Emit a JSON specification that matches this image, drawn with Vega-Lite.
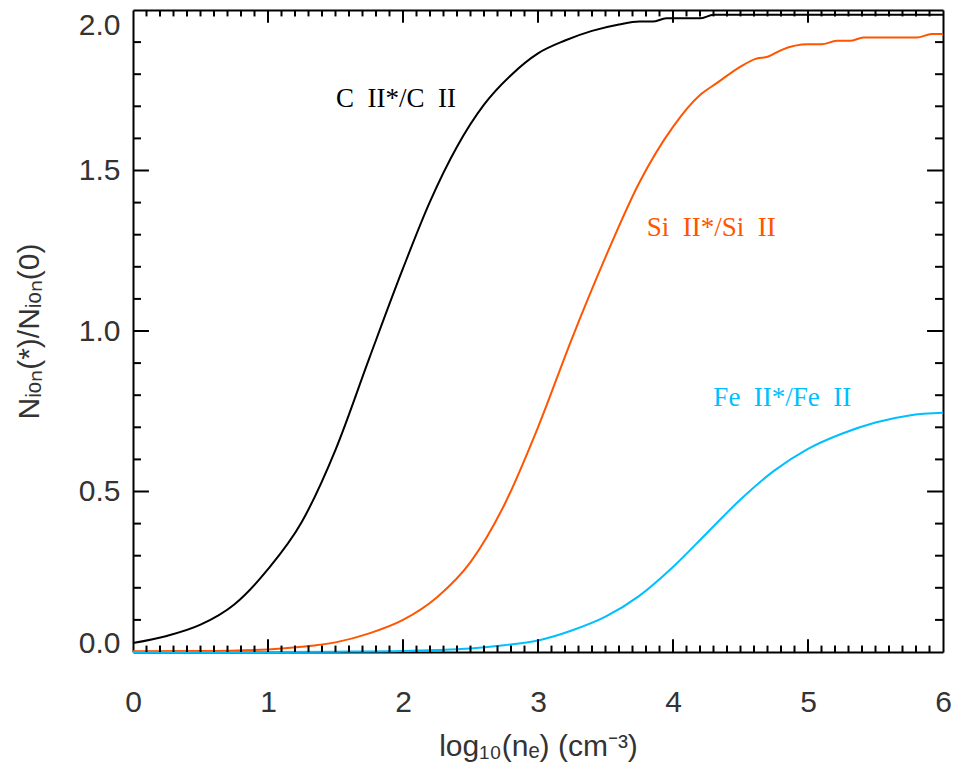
{
  "$schema": "https://vega.github.io/schema/vega-lite/v6.json",
  "width": 810,
  "height": 642,
  "autosize": "none",
  "padding": {"left": 133, "top": 10, "right": 16, "bottom": 124},
  "background": "white",
  "datasets": {
    "curves": [
      {"series": "C", "x": 0, "y": 0.028},
      {"series": "C", "x": 0.25, "y": 0.05},
      {"series": "C", "x": 0.5, "y": 0.085},
      {"series": "C", "x": 0.75, "y": 0.148},
      {"series": "C", "x": 1.0, "y": 0.258},
      {"series": "C", "x": 1.25, "y": 0.405},
      {"series": "C", "x": 1.5, "y": 0.63},
      {"series": "C", "x": 1.75, "y": 0.915},
      {"series": "C", "x": 2.0, "y": 1.195},
      {"series": "C", "x": 2.2, "y": 1.403},
      {"series": "C", "x": 2.4, "y": 1.574},
      {"series": "C", "x": 2.6, "y": 1.705},
      {"series": "C", "x": 2.8, "y": 1.797},
      {"series": "C", "x": 3.0, "y": 1.865},
      {"series": "C", "x": 3.2, "y": 1.905},
      {"series": "C", "x": 3.4, "y": 1.935},
      {"series": "C", "x": 3.6, "y": 1.955},
      {"series": "C", "x": 3.75, "y": 1.964},
      {"series": "C", "x": 3.85, "y": 1.964},
      {"series": "C", "x": 3.95, "y": 1.974},
      {"series": "C", "x": 4.2, "y": 1.974},
      {"series": "C", "x": 4.3, "y": 1.985},
      {"series": "C", "x": 6.0, "y": 1.985},
      {"series": "Si", "x": 0, "y": 0.002},
      {"series": "Si", "x": 0.5, "y": 0.003},
      {"series": "Si", "x": 1.0, "y": 0.008},
      {"series": "Si", "x": 1.25, "y": 0.016},
      {"series": "Si", "x": 1.5, "y": 0.03},
      {"series": "Si", "x": 1.75, "y": 0.058},
      {"series": "Si", "x": 2.0, "y": 0.1},
      {"series": "Si", "x": 2.25, "y": 0.17},
      {"series": "Si", "x": 2.5, "y": 0.28},
      {"series": "Si", "x": 2.75, "y": 0.458},
      {"series": "Si", "x": 3.0, "y": 0.7},
      {"series": "Si", "x": 3.25, "y": 0.975},
      {"series": "Si", "x": 3.5, "y": 1.23},
      {"series": "Si", "x": 3.75, "y": 1.462},
      {"series": "Si", "x": 4.0, "y": 1.636},
      {"series": "Si", "x": 4.2, "y": 1.735},
      {"series": "Si", "x": 4.324, "y": 1.772},
      {"series": "Si", "x": 4.509, "y": 1.826},
      {"series": "Si", "x": 4.607, "y": 1.847},
      {"series": "Si", "x": 4.706, "y": 1.855},
      {"series": "Si", "x": 4.806, "y": 1.876},
      {"series": "Si", "x": 5.0, "y": 1.893},
      {"series": "Si", "x": 5.1, "y": 1.893},
      {"series": "Si", "x": 5.213, "y": 1.904},
      {"series": "Si", "x": 5.311, "y": 1.904},
      {"series": "Si", "x": 5.41, "y": 1.914},
      {"series": "Si", "x": 5.805, "y": 1.914},
      {"series": "Si", "x": 5.916, "y": 1.925},
      {"series": "Si", "x": 6.0, "y": 1.925},
      {"series": "Fe", "x": 0, "y": 0.0},
      {"series": "Fe", "x": 1.0, "y": 0.0},
      {"series": "Fe", "x": 1.5, "y": 0.001},
      {"series": "Fe", "x": 2.0, "y": 0.003},
      {"series": "Fe", "x": 2.25, "y": 0.006},
      {"series": "Fe", "x": 2.5, "y": 0.011},
      {"series": "Fe", "x": 2.75, "y": 0.021},
      {"series": "Fe", "x": 3.0, "y": 0.036},
      {"series": "Fe", "x": 3.25, "y": 0.067},
      {"series": "Fe", "x": 3.5, "y": 0.11},
      {"series": "Fe", "x": 3.75, "y": 0.175},
      {"series": "Fe", "x": 4.0, "y": 0.265},
      {"series": "Fe", "x": 4.25, "y": 0.37},
      {"series": "Fe", "x": 4.5, "y": 0.475},
      {"series": "Fe", "x": 4.75, "y": 0.565},
      {"series": "Fe", "x": 5.0, "y": 0.633},
      {"series": "Fe", "x": 5.25, "y": 0.68},
      {"series": "Fe", "x": 5.5, "y": 0.715},
      {"series": "Fe", "x": 5.75, "y": 0.737},
      {"series": "Fe", "x": 6.0, "y": 0.745}
    ],
    "labels": [
      {"series": "C", "x": 1.504, "y": 1.699, "label": "C\u2002II*/C\u2002II"},
      {"series": "Si", "x": 3.805, "y": 1.297, "label": "Si\u2002II*/Si\u2002II"},
      {"series": "Fe", "x": 4.299, "y": 0.766, "label": "Fe\u2002II*/Fe\u2002II"}
    ],
    "xmajor": [{"v": 1}, {"v": 2}, {"v": 3}, {"v": 4}, {"v": 5}],
    "xminor": [
      {"v": 0.1}, {"v": 0.2}, {"v": 0.3}, {"v": 0.4}, {"v": 0.5}, {"v": 0.6}, {"v": 0.7}, {"v": 0.8}, {"v": 0.9},
      {"v": 1.1}, {"v": 1.2}, {"v": 1.3}, {"v": 1.4}, {"v": 1.5}, {"v": 1.6}, {"v": 1.7}, {"v": 1.8}, {"v": 1.9},
      {"v": 2.1}, {"v": 2.2}, {"v": 2.3}, {"v": 2.4}, {"v": 2.5}, {"v": 2.6}, {"v": 2.7}, {"v": 2.8}, {"v": 2.9},
      {"v": 3.1}, {"v": 3.2}, {"v": 3.3}, {"v": 3.4}, {"v": 3.5}, {"v": 3.6}, {"v": 3.7}, {"v": 3.8}, {"v": 3.9},
      {"v": 4.1}, {"v": 4.2}, {"v": 4.3}, {"v": 4.4}, {"v": 4.5}, {"v": 4.6}, {"v": 4.7}, {"v": 4.8}, {"v": 4.9},
      {"v": 5.1}, {"v": 5.2}, {"v": 5.3}, {"v": 5.4}, {"v": 5.5}, {"v": 5.6}, {"v": 5.7}, {"v": 5.8}, {"v": 5.9}
    ],
    "ymajor": [{"v": 0.5}, {"v": 1.0}, {"v": 1.5}],
    "yminor": [
      {"v": 0.1}, {"v": 0.2}, {"v": 0.3}, {"v": 0.4}, {"v": 0.6}, {"v": 0.7}, {"v": 0.8}, {"v": 0.9},
      {"v": 1.1}, {"v": 1.2}, {"v": 1.3}, {"v": 1.4}, {"v": 1.6}, {"v": 1.7}, {"v": 1.8}, {"v": 1.9}
    ]
  },
  "layer": [
    {
      "data": {"name": "curves"},
      "mark": {"type": "line", "strokeWidth": 2, "interpolate": "monotone", "clip": false},
      "encoding": {
        "x": {
          "field": "x", "type": "quantitative",
          "scale": {"domain": [0, 6], "nice": false, "zero": false},
          "axis": {
            "orient": "bottom",
            "values": [0, 1, 2, 3, 4, 5, 6],
            "ticks": false,
            "format": "d",
            "labelPadding": 35,
            "title": "log₁₀(nₑ) (cm⁻³)",
            "titleX": 405,
            "titleY": 103,
            "titleBaseline": "alphabetic",
            "titleAlign": "center"
          }
        },
        "y": {
          "field": "y", "type": "quantitative",
          "scale": {"domain": [0, 2], "nice": false, "zero": false},
          "axis": {
            "orient": "left",
            "values": [0, 0.5, 1, 1.5, 2],
            "ticks": false,
            "format": ".1f",
            "labelPadding": 13,
            "labelBaseline": {"condition": [{"test": "datum.value < 0.01", "value": "alphabetic"}, {"test": "datum.value > 1.99", "value": "top"}], "value": "middle"},
            "title": "Nᵢₒₙ(*)/Nᵢₒₙ(0)",
            "titleX": -95,
            "titleY": 321,
            "titleAngle": 270,
            "titleBaseline": "alphabetic",
            "titleAlign": "center"
          }
        },
        "color": {
          "field": "series", "type": "nominal",
          "scale": {"domain": ["C", "Si", "Fe"], "range": ["#000000", "#ff5500", "#00bfff"]},
          "legend": null
        }
      }
    },
    {
      "data": {"name": "labels"},
      "mark": {"type": "text", "align": "left", "baseline": "alphabetic", "font": "Liberation Serif", "fontSize": 27},
      "encoding": {
        "x": {
          "field": "x", "type": "quantitative",
          "scale": {"domain": [0, 6], "nice": false, "zero": false},
          "axis": {"orient": "top", "values": [0, 1, 2, 3, 4, 5, 6], "ticks": false, "labels": false, "title": null}
        },
        "y": {
          "field": "y", "type": "quantitative",
          "scale": {"domain": [0, 2], "nice": false, "zero": false},
          "axis": {"orient": "right", "values": [0, 0.5, 1, 1.5, 2], "ticks": false, "labels": false, "title": null}
        },
        "text": {"field": "label", "type": "nominal"},
        "color": {"field": "series", "type": "nominal", "legend": null}
      }
    },
    {
      "data": {"name": "xmajor"},
      "mark": {"type": "rule", "stroke": "#000000", "strokeWidth": 2},
      "encoding": {
        "x": {"field": "v", "type": "quantitative", "axis": null},
        "y": {"datum": 0, "type": "quantitative", "axis": null},
        "y2": {"datum": 0.04}
      }
    },
    {
      "data": {"name": "xminor"},
      "mark": {"type": "rule", "stroke": "#000000", "strokeWidth": 2},
      "encoding": {
        "x": {"field": "v", "type": "quantitative", "axis": null},
        "y": {"datum": 0, "type": "quantitative", "axis": null},
        "y2": {"datum": 0.02}
      }
    },
    {
      "data": {"name": "xmajor"},
      "mark": {"type": "rule", "stroke": "#000000", "strokeWidth": 2},
      "encoding": {
        "x": {"field": "v", "type": "quantitative", "axis": null},
        "y": {"datum": 2, "type": "quantitative", "axis": null},
        "y2": {"datum": 1.96}
      }
    },
    {
      "data": {"name": "xminor"},
      "mark": {"type": "rule", "stroke": "#000000", "strokeWidth": 2},
      "encoding": {
        "x": {"field": "v", "type": "quantitative", "axis": null},
        "y": {"datum": 2, "type": "quantitative", "axis": null},
        "y2": {"datum": 1.98}
      }
    },
    {
      "data": {"name": "ymajor"},
      "mark": {"type": "rule", "stroke": "#000000", "strokeWidth": 2},
      "encoding": {
        "y": {"field": "v", "type": "quantitative", "axis": null},
        "x": {"datum": 0, "type": "quantitative", "axis": null},
        "x2": {"datum": 0.118}
      }
    },
    {
      "data": {"name": "yminor"},
      "mark": {"type": "rule", "stroke": "#000000", "strokeWidth": 2},
      "encoding": {
        "y": {"field": "v", "type": "quantitative", "axis": null},
        "x": {"datum": 0, "type": "quantitative", "axis": null},
        "x2": {"datum": 0.059}
      }
    },
    {
      "data": {"name": "ymajor"},
      "mark": {"type": "rule", "stroke": "#000000", "strokeWidth": 2},
      "encoding": {
        "y": {"field": "v", "type": "quantitative", "axis": null},
        "x": {"datum": 6, "type": "quantitative", "axis": null},
        "x2": {"datum": 5.882}
      }
    },
    {
      "data": {"name": "yminor"},
      "mark": {"type": "rule", "stroke": "#000000", "strokeWidth": 2},
      "encoding": {
        "y": {"field": "v", "type": "quantitative", "axis": null},
        "x": {"datum": 6, "type": "quantitative", "axis": null},
        "x2": {"datum": 5.941}
      }
    }
  ],
  "resolve": {"axis": {"x": "independent", "y": "independent"}},
  "config": {
    "view": {"stroke": null},
    "axis": {
      "grid": false,
      "domainColor": "#000000",
      "domainWidth": 2,
      "labelFont": "Liberation Sans",
      "labelFontSize": 30,
      "labelColor": "#333333",
      "labelFlush": false,
      "labelOverlap": false,
      "titleFont": "Liberation Sans",
      "titleFontSize": 30,
      "titleColor": "#333333",
      "titleFontWeight": "normal"
    }
  }
}
